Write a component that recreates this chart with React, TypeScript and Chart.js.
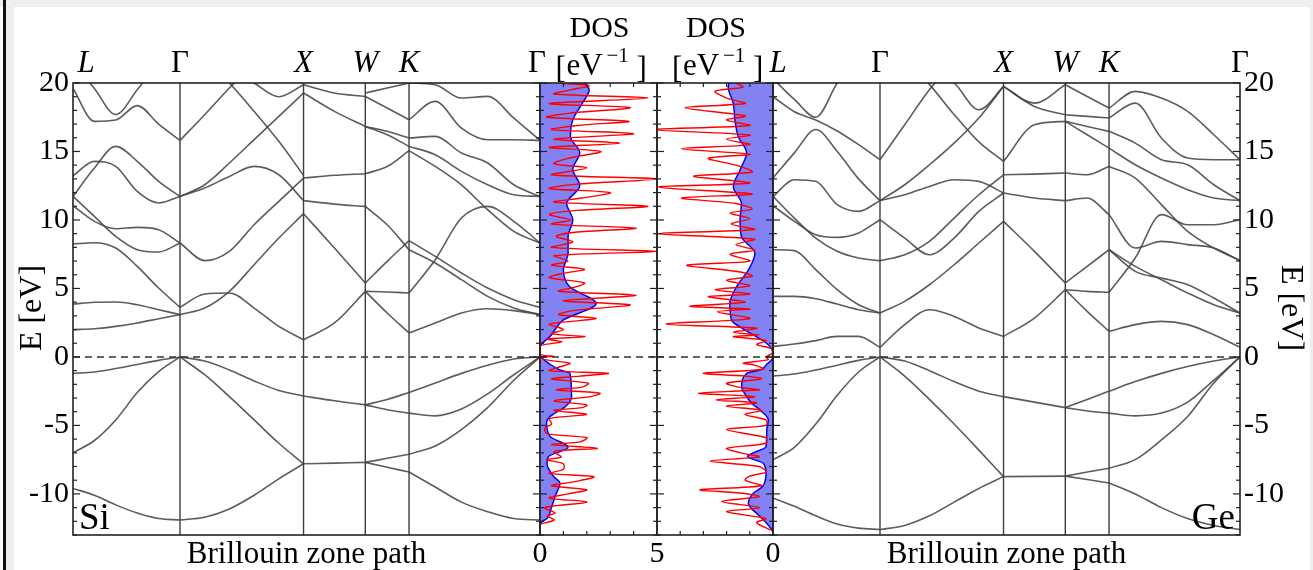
import React, { useEffect, useRef } from "react";
import { Chart, registerables } from "chart.js";

Chart.register(...registerables);

const FONT = '"Liberation Serif", "Times New Roman", "DejaVu Serif", serif';
const E_MIN = -13;
const E_MAX = 20;
const Y_TICKS = [-10, -5, 0, 5, 10, 15, 20];
const DOS_MAX = 5;

// Brillouin-zone path (units of 2π/a)
const SYM_LABELS = ["L", "Γ", "X", "W", "K", "Γ"];
const SYM_K = [0, 0.866, 1.866, 2.366, 2.72, 3.78];
const K_LG = [0, 0.173, 0.346, 0.52, 0.693, 0.866];
const K_GX = [0.866, 1.066, 1.266, 1.466, 1.666, 1.866];
const K_XW = [1.866, 2.116, 2.366];
const K_WK = [2.366, 2.543, 2.72];
const K_KG = [2.72, 2.932, 3.144, 3.356, 3.568, 3.78];

// ---------- Si bands (eV) ----------
const SI_LG = [
  [-9.6, -10.1, -10.8, -11.4, -11.8, -11.9],
  [-7.0, -6.1, -4.6, -2.6, -1.07, 0],
  [-1.2, -1.1, -0.85, -0.55, -0.25, 0],
  [1.99, 2.06, 2.23, 2.48, 2.79, 3.09],
  [3.86, 3.99, 4.01, 3.81, 3.45, 3.09],
  [8.24, 8.34, 7.95, 6.61, 5.03, 3.62],
  [11.72, 10.26, 8.8, 7.83, 7.66, 8.32],
  [11.04, 9.9, 9.36, 9.46, 9.29, 8.32],
  [13.23, 14.28, 13.91, 12.09, 11.24, 11.72],
  [11.72, 13.79, 15.37, 14.28, 12.82, 11.72],
  [19.6, 17.2, 17.3, 18.35, 17.0, 15.81],
  [21.5, 19.6, 17.7, 19.5, 21.5, 23.0],
];
const SI_GX = [
  [0, -0.3, -0.95, -1.75, -2.45, -2.85],
  [0, -1.3, -2.9, -4.6, -6.3, -7.8],
  [-11.9, -11.7, -11.1, -10.1, -8.9, -7.8],
  [3.62, 4.59, 4.67, 3.57, 2.23, 1.26],
  [3.09, 3.57, 4.79, 6.73, 8.68, 10.46],
  [8.32, 7.03, 7.71, 9.65, 11.36, 13.06],
  [11.72, 12.33, 13.18, 13.91, 13.3, 11.41],
  [11.72, 12.57, 14.16, 15.86, 17.56, 19.27],
  [15.81, 17.68, 19.63, 21.4, 23.0, 24.5],
  [23.5, 21.8, 20.0, 17.93, 15.74, 13.26],
  [24.5, 23.0, 21.0, 20.0, 19.0, 19.87],
];
const SI_XW = [
  [-2.85, -3.2, -3.5],
  [-7.8, -7.75, -7.7],
  [1.26, 2.48, 4.79],
  [10.46, 7.95, 5.4],
  [11.41, 11.16, 10.99],
  [13.06, 13.26, 13.38],
  [19.27, 17.93, 16.83],
  [19.87, 19.27, 19.02],
];
const SI_WK = [
  [-3.5, -3.1, -2.6],
  [-3.5, -3.85, -4.1],
  [-7.7, -7.4, -7.1],
  [-7.7, -8.05, -8.4],
  [4.79, 3.21, 1.75],
  [4.79, 4.74, 4.67],
  [5.4, 6.98, 8.49],
  [10.99, 9.65, 7.83],
  [13.38, 13.9, 15.06],
  [16.83, 16.22, 15.37],
  [16.83, 16.47, 15.98],
  [19.02, 18.17, 17.32],
  [19.27, 19.63, 20.0],
];
const SI_KG = [
  [-2.6, -1.9, -1.2, -0.6, -0.15, 0],
  [-4.1, -4.3, -3.8, -2.7, -1.3, 0],
  [-7.1, -6.5, -5.3, -3.7, -1.7, 0],
  [-8.4, -9.5, -10.6, -11.3, -11.8, -11.9],
  [1.75, 2.48, 3.21, 3.52, 3.38, 3.09],
  [4.67, 7.1, 10.14, 10.99, 9.9, 8.32],
  [8.49, 7.34, 6.13, 5.03, 4.18, 3.62],
  [7.83, 6.86, 5.64, 4.42, 3.57, 3.09],
  [15.06, 13.91, 12.57, 10.75, 9.17, 8.32],
  [15.37, 14.76, 13.55, 12.57, 11.84, 11.72],
  [15.98, 16.1, 14.89, 14.16, 12.57, 11.72],
  [17.32, 18.66, 16.71, 15.86, 15.86, 15.81],
  [20.0, 19.87, 18.9, 19.02, 17.44, 15.81],
];

// ---------- Ge bands (eV) ----------
const GE_LG = [
  [-10.3, -10.9, -11.6, -12.2, -12.5, -12.6],
  [-7.5, -6.6, -4.9, -2.8, -1.1, 0],
  [-1.4, -1.25, -0.95, -0.6, -0.25, 0],
  [0.77, 0.94, 1.19, 1.5, 1.5, 0.7],
  [4.42, 4.42, 4.25, 3.86, 3.45, 3.21],
  [7.83, 7.76, 6.37, 4.91, 3.81, 3.21],
  [11.04, 9.9, 8.92, 8.73, 9.05, 10.02],
  [11.72, 10.14, 8.68, 7.71, 7.22, 7.03],
  [13.06, 14.9, 16.6, 15.0, 13.0, 11.41],
  [11.72, 12.94, 12.82, 11.12, 10.63, 11.41],
  [19.0, 17.9, 17.3, 16.5, 15.5, 14.4],
  [20.3, 18.8, 17.5, 20.0, 22.0, 24.0],
];
const GE_GX = [
  [0, -0.3, -1.0, -1.8, -2.5, -2.9],
  [0, -1.4, -3.1, -4.9, -6.8, -8.74],
  [-12.6, -12.3, -11.6, -10.6, -9.6, -8.74],
  [0.7, 2.36, 3.45, 2.96, 2.11, 1.5],
  [3.21, 4.06, 5.27, 6.73, 8.32, 9.9],
  [7.03, 7.46, 8.44, 10.14, 11.84, 13.3],
  [10.02, 8.68, 7.46, 8.68, 10.63, 11.97],
  [11.41, 11.84, 12.45, 12.94, 12.82, 11.97],
  [11.41, 12.57, 14.03, 15.61, 17.44, 19.75],
  [14.4, 16.95, 19.5, 21.5, 23.0, 24.5],
  [23.5, 21.8, 19.9, 17.7, 15.7, 14.28],
  [24.0, 23.0, 21.0, 20.0, 18.05, 19.75],
];
const GE_XW = [
  [-2.9, -3.3, -3.7],
  [-8.74, -8.72, -8.7],
  [1.5, 2.84, 4.91],
  [9.9, 7.71, 5.4],
  [11.97, 11.6, 11.41],
  [13.3, 13.35, 13.43],
  [14.28, 16.95, 17.2],
  [19.75, 18.29, 17.68],
  [19.75, 18.53, 19.87],
];
const GE_WK = [
  [-3.7, -3.1, -2.5],
  [-3.7, -3.95, -4.1],
  [-8.7, -8.4, -8.13],
  [-8.7, -8.95, -9.2],
  [4.91, 3.33, 1.87],
  [4.91, 4.79, 4.72],
  [5.4, 6.61, 7.83],
  [11.41, 11.6, 10.39],
  [13.43, 13.3, 13.91],
  [17.2, 16.22, 15.25],
  [17.2, 16.83, 16.47],
  [17.68, 17.56, 17.44],
  [19.87, 19.02, 18.17],
];
const GE_KG = [
  [-2.5, -1.8, -1.2, -0.7, -0.3, 0],
  [-4.1, -4.3, -4.1, -3.3, -1.7, 0],
  [-8.13, -7.5, -6.06, -4.35, -1.9, 0],
  [-9.2, -10.0, -11.0, -11.8, -12.3, -12.6],
  [1.87, 2.36, 2.6, 2.36, 1.62, 0.7],
  [4.72, 7.22, 10.39, 9.65, 9.65, 10.02],
  [7.83, 6.61, 5.64, 4.67, 3.81, 3.21],
  [7.83, 6.25, 5.76, 5.27, 4.3, 3.21],
  [10.39, 7.95, 8.44, 8.2, 7.95, 7.03],
  [13.91, 13.06, 11.12, 9.17, 7.95, 7.03],
  [15.25, 14.03, 13.06, 12.21, 11.6, 11.41],
  [16.47, 15.61, 14.4, 14.03, 12.57, 11.41],
  [17.44, 18.53, 15.98, 14.52, 14.4, 14.4],
  [18.17, 19.39, 18.9, 17.93, 16.22, 14.4],
];

// ---------- DOS (states / eV) ----------
const SI_DOS_E = [-12.3, -12.0, -11.8, -11.2, -10.2, -9.2, -8.7, -7.8, -7.3, -6.6, -5.8, -4.8, -4.35, -3.6, -2.9, -1.2, -0.95, -0.5, -0.1, 0, 0.2, 0.8, 1.0, 1.5, 2.7, 3.9, 5.1, 6.35, 7.6, 8.8, 10.0, 11.2, 12.5, 13.7, 14.9, 16.1, 17.3, 18.5, 19.5, 20];
const SI_DOS = [0, 0.1, 0.3, 0.45, 0.64, 0.85, 0.57, 0.3, 0.35, 1.2, 0.43, 0.28, 0.43, 1.1, 1.35, 1.28, 0.85, 0.4, 0.1, 0.05, 0, 0, 0.1, 0.43, 1.0, 2.4, 1.28, 1.0, 1.2, 1.2, 1.4, 1.14, 1.7, 1.4, 1.7, 1.3, 1.4, 1.8, 2.1, 1.9];
const SI_PDOS_E = [-12.2, -11.9, -11.6, -11.4, -11.0, -10.6, -10.3, -10.0, -9.7, -9.4, -9.1, -8.75, -8.5, -8.2, -7.8, -7.5, -7.3, -6.9, -6.67, -6.4, -6.2, -5.9, -5.6, -5.2, -4.9, -4.5, -4.2, -3.9, -3.7, -3.5, -3.2, -2.9, -2.65, -2.4, -2.2, -1.92, -1.6, -1.4, -1.19, -1.0, -0.7, -0.46, -0.2, 0.0, 0.05, 0.2, 0.8, 1.1, 1.3, 1.48, 1.7, 2.0, 2.4, 2.8, 3.1, 3.4, 3.8, 4.1, 4.5, 4.8, 5.1, 5.4, 5.8, 6.1, 6.4, 6.7, 7.0, 7.4, 7.7, 8.0, 8.4, 8.8, 9.1, 9.4, 9.7, 10.0, 10.4, 10.7, 11.0, 11.3, 11.6, 12.0, 12.3, 12.6, 13.0, 13.3, 13.8, 14.1, 14.5, 15.0, 15.3, 15.6, 15.9, 16.3, 16.6, 16.9, 17.2, 17.5, 17.8, 18.2, 18.5, 18.9, 19.2, 19.5, 19.8, 20.0];
const SI_PDOS = [0, 0.6, 0.3, 0.64, 0.2, 2.0, 0.4, 1.2, 2.0, 0.5, 1.5, 2.3, 0.4, 1.0, 1.0, 0.3, 0.9, 0.6, 2.45, 0.5, 1.7, 2.0, 0.3, 0.2, 0.5, 0.4, 2.0, 0.6, 1.8, 2.0, 0.6, 2.15, 2.56, 0.7, 1.8, 2.07, 0.5, 1.7, 2.92, 0.4, 0.9, 1.28, 0.2, 0, 0.6, 0, 0, 0.93, 0.3, 1.92, 0.5, 1.0, 0.4, 2.4, 0.8, 1.5, 3.85, 1.0, 4.1, 0.8, 1.5, 1.9, 0.4, 1.0, 1.9, 0.5, 1.2, 0.6, 5.0, 0.5, 1.4, 0.7, 1.5, 4.1, 0.5, 1.3, 0.4, 1.6, 4.6, 0.6, 1.8, 3.0, 0.4, 1.5, 5.0, 0.5, 2.0, 0.6, 1.2, 2.6, 0.4, 3.4, 0.6, 4.0, 0.5, 1.6, 3.8, 0.3, 1.3, 3.85, 0.4, 4.6, 0.6, 1.3, 2.1, 0.8];

const GE_DOS_E = [-12.8, -12.6, -12.14, -11.65, -10.68, -9.95, -9.46, -8.49, -7.76, -7.27, -6.55, -5.33, -4.6, -3.87, -3.38, -2.9, -2.17, -1.19, -0.95, -0.5, -0.22, 0, 0.4, 0.63, 1.0, 1.97, 2.7, 3.9, 5.13, 6.35, 7.57, 8.78, 10.0, 11.2, 12.43, 13.65, 14.9, 16.1, 17.3, 18.5, 19.73, 20];
const GE_DOS = [0, 0.06, 0.27, 0.56, 1.06, 0.85, 0.45, 0.3, 0.42, 1.1, 0.3, 0.27, 0.2, 0.56, 0.92, 1.13, 1.35, 1.13, 0.56, 0.25, 0.06, 0.02, 0.02, 0.07, 0.28, 1.21, 1.79, 1.86, 1.57, 1.06, 0.78, 1.36, 1.42, 1.36, 1.71, 1.42, 1.14, 1.5, 1.64, 1.71, 1.93, 1.9];
const GE_PDOS_E = [-12.7, -12.1, -11.8, -11.3, -11.0, -10.56, -10.2, -9.95, -9.7, -9.4, -9.0, -8.7, -8.4, -8.0, -7.6, -7.3, -7.0, -6.67, -6.3, -5.9, -5.3, -5.0, -4.6, -4.2, -3.9, -3.6, -3.35, -3.14, -2.9, -2.65, -2.4, -2.2, -1.92, -1.6, -1.4, -1.19, -0.9, -0.6, -0.46, -0.2, 0.0, 0.3, 0.6, 0.9, 1.2, 1.48, 1.6, 1.8, 2.1, 2.4, 2.8, 3.3, 3.5, 3.7, 4.0, 4.4, 4.6, 4.9, 5.2, 5.6, 5.9, 6.2, 6.7, 7.0, 7.5, 7.8, 8.2, 8.6, 9.0, 9.3, 9.7, 10.1, 10.5, 10.8, 11.2, 11.6, 11.9, 12.4, 12.7, 13.2, 13.5, 14.0, 14.5, 14.8, 15.2, 15.5, 15.9, 16.2, 16.6, 16.9, 17.3, 17.6, 18.2, 18.5, 18.9, 19.4, 19.7, 20.0];
const GE_PDOS = [0, 0.71, 0.3, 2.0, 0.6, 2.21, 0.6, 1.3, 3.14, 0.5, 1.2, 1.0, 0.3, 0.6, 2.72, 0.6, 1.4, 2.0, 0.3, 0.3, 2.0, 0.3, 0.3, 1.2, 0.5, 2.0, 0.7, 2.43, 0.8, 3.21, 0.6, 1.5, 2.0, 0.5, 1.2, 3.0, 0.4, 0.8, 1.28, 0.2, 0.3, 0, 0.05, 0.7, 0.3, 1.71, 0.6, 1.7, 0.7, 4.6, 1.0, 2.4, 1.0, 3.58, 1.2, 2.79, 1.0, 2.5, 1.0, 2.0, 0.9, 1.4, 3.72, 1.0, 1.85, 0.8, 1.6, 0.8, 4.94, 0.8, 1.8, 1.0, 1.85, 0.9, 1.6, 3.94, 0.9, 4.94, 1.0, 3.43, 0.9, 1.6, 2.79, 1.0, 3.94, 1.0, 2.0, 1.0, 5.2, 1.0, 2.0, 1.2, 3.79, 1.2, 2.0, 2.5, 1.3, 1.6];

const BAND_COLOR = "rgba(70,70,70,0.88)";
const W = 1313;
const H = 570;

type Seg = [number[], number[][]];

function bandDatasets(segs: Seg[]) {
  const out: any[] = [];
  for (const [ks, bands] of segs) {
    for (const b of bands) {
      out.push({
        data: ks.map((k, i) => ({ x: k, y: b[i] })),
        showLine: true,
        borderColor: BAND_COLOR,
        borderWidth: 1.6,
        pointRadius: 0,
        cubicInterpolationMode: "monotone",
        fill: false,
      });
    }
  }
  return out;
}

function seg(ctx: CanvasRenderingContext2D, x1: number, y1: number, x2: number, y2: number) {
  ctx.beginPath();
  ctx.moveTo(x1, y1);
  ctx.lineTo(x2, y2);
  ctx.stroke();
}

function energyTicks(ctx: CanvasRenderingContext2D, a: any, ys: any, major: number, minor: number) {
  ctx.strokeStyle = "#222";
  ctx.lineWidth = 1.2;
  for (let v = E_MIN; v <= E_MAX; v++) {
    const py = ys.getPixelForValue(v);
    const len = v % 5 === 0 ? major : minor;
    seg(ctx, a.left, py, a.left + len, py);
    seg(ctx, a.right, py, a.right - len, py);
  }
}

function zeroLine(ctx: CanvasRenderingContext2D, a: any, ys: any) {
  const y0 = ys.getPixelForValue(0);
  ctx.save();
  ctx.strokeStyle = "#333";
  ctx.lineWidth = 1.5;
  ctx.setLineDash([7, 5]);
  seg(ctx, a.left, y0, a.right, y0);
  ctx.restore();
}

function frame(ctx: CanvasRenderingContext2D, a: any) {
  ctx.strokeStyle = "#222";
  ctx.lineWidth = 1.6;
  ctx.strokeRect(a.left, a.top, a.right - a.left, a.bottom - a.top);
}

function bandDeco(side: "left" | "right", name: string, dx: number[]) {
  return {
    id: "bandDeco",
    beforeDatasetsDraw(chart: any) {
      const { ctx, chartArea: a, scales } = chart;
      ctx.save();
      ctx.strokeStyle = "rgba(40,40,40,0.9)";
      ctx.lineWidth = 1.4;
      for (let i = 1; i < SYM_K.length - 1; i++) {
        const px = scales.x.getPixelForValue(SYM_K[i]);
        seg(ctx, px, a.top, px, a.bottom);
      }
      ctx.restore();
    },
    afterDatasetsDraw(chart: any) {
      const { ctx, chartArea: a, scales } = chart;
      const xs = scales.x;
      const ys = scales.y;
      ctx.save();
      zeroLine(ctx, a, ys);
      frame(ctx, a);
      energyTicks(ctx, a, ys, 7, 4);
      ctx.fillStyle = "#000";
      ctx.textAlign = "center";
      ctx.textBaseline = "alphabetic";
      SYM_LABELS.forEach((lab, i) => {
        ctx.font = (lab === "Γ" ? "" : "italic ") + "31px " + FONT;
        ctx.fillText(lab, xs.getPixelForValue(SYM_K[i]) + dx[i], 72);
      });
      ctx.font = "31px " + FONT;
      ctx.fillText("Brillouin zone path", (a.left + a.right) / 2, 563);
      ctx.font = "37px " + FONT;
      ctx.textAlign = side === "left" ? "left" : "right";
      ctx.fillText(name, side === "left" ? a.left + 6 : a.right - 5, 529);
      ctx.font = "32px " + FONT;
      ctx.translate(side === "left" ? 33 : 1290, 308);
      ctx.rotate(side === "left" ? -Math.PI / 2 : Math.PI / 2);
      ctx.textAlign = "center";
      ctx.textBaseline = "middle";
      ctx.fillText("E [eV]", 0, 0);
      ctx.restore();
    },
  };
}

function dosDeco() {
  return {
    id: "dosDeco",
    afterDatasetsDraw(chart: any) {
      const { ctx, chartArea: a, scales } = chart;
      const xs = scales.x;
      const ys = scales.y;
      ctx.save();
      zeroLine(ctx, a, ys);
      frame(ctx, a);
      energyTicks(ctx, a, ys, 7, 4);
      for (let d = 1; d < DOS_MAX; d++) {
        const px = xs.getPixelForValue(d);
        seg(ctx, px, a.top, px, a.top + 4);
        seg(ctx, px, a.bottom, px, a.bottom - 4);
      }
      const cx = (a.left + a.right) / 2;
      ctx.fillStyle = "#000";
      ctx.textBaseline = "alphabetic";
      ctx.font = "30px " + FONT;
      ctx.textAlign = "center";
      ctx.fillText("DOS", cx + 1, 37);
      ctx.textAlign = "left";
      ctx.font = "31px " + FONT;
      ctx.fillText("[", cx - 43, 78);
      ctx.fillText("]", cx + 38, 78);
      ctx.font = "31px " + FONT;
      ctx.fillText("eV", cx - 32, 75);
      ctx.font = "21px " + FONT;
      ctx.fillText("\u22121", cx + 8, 62);
      ctx.restore();
    },
  };
}

const baseOptions = {
  animation: false as const,
  responsive: false,
  events: [] as any[],
  plugins: { legend: { display: false }, tooltip: { enabled: false } },
};

function bandConfig(segs: Seg[], side: "left" | "right", name: string, dx: number[]): any {
  return {
    type: "scatter",
    data: { datasets: bandDatasets(segs) },
    options: {
      ...baseOptions,
      layout: {
        padding: side === "left"
          ? { left: 13, right: W - 540, top: 83, bottom: H - 535 }
          : { left: 773, right: W - 1240 - 60, top: 83, bottom: H - 535 },
      },
      scales: {
        x: { type: "linear", min: SYM_K[0], max: SYM_K[SYM_K.length - 1], display: false },
        y: {
          type: "linear",
          min: E_MIN,
          max: E_MAX,
          position: side,
          grid: { display: false, drawTicks: false },
          border: { display: false },
          ticks: { font: { family: FONT, size: 30 }, color: "#000", padding: 4, callback: (v: number) => String(v) },
          afterBuildTicks: (s: any) => { s.ticks = Y_TICKS.map((v) => ({ value: v })); },
          afterFit: (s: any) => { s.width = 60; },
        },
      },
    },
    plugins: [bandDeco(side, name, dx)],
  };
}

function dosConfig(eTot: number[], dTot: number[], eP: number[], dP: number[], reverse: boolean, left: number, right: number, labels: number[]): any {
  return {
    type: "line",
    data: {
      datasets: [
        {
          data: eP.map((e, i) => ({ x: dP[i], y: e })),
          borderColor: "rgb(255,0,0)",
          borderWidth: 1.4,
          pointRadius: 0,
          fill: false,
          tension: 0.3,
          order: 0,
        },
        {
          data: eTot.map((e, i) => ({ x: dTot[i], y: e })),
          borderColor: "rgb(0,0,255)",
          backgroundColor: "rgba(95,95,240,0.78)",
          borderWidth: 1.5,
          pointRadius: 0,
          fill: "origin",
          cubicInterpolationMode: "monotone",
          order: 1,
        },
      ],
    },
    options: {
      ...baseOptions,
      indexAxis: "y",
      layout: { padding: { left, right: W - right, top: 83, bottom: 0 } },
      scales: {
        x: {
          type: "linear",
          min: 0,
          max: DOS_MAX,
          reverse,
          position: "bottom",
          grid: { display: false, drawTicks: false },
          border: { display: false },
          ticks: { font: { family: FONT, size: 30 }, color: "#000", padding: 1, maxRotation: 0, autoSkip: false, callback: (v: number) => String(v) },
          afterBuildTicks: (s: any) => { s.ticks = labels.map((v) => ({ value: v })); },
          afterFit: (s: any) => { s.height = H - 535; },
        },
        y: { type: "linear", min: E_MIN, max: E_MAX, display: false },
      },
    },
    plugins: [dosDeco()],
  };
}

export default function App() {
  const r1 = useRef<HTMLCanvasElement>(null);
  const r2 = useRef<HTMLCanvasElement>(null);
  const r3 = useRef<HTMLCanvasElement>(null);
  const r4 = useRef<HTMLCanvasElement>(null);

  useEffect(() => {
    const siSegs: Seg[] = [[K_LG, SI_LG], [K_GX, SI_GX], [K_XW, SI_XW], [K_WK, SI_WK], [K_KG, SI_KG]];
    const geSegs: Seg[] = [[K_LG, GE_LG], [K_GX, GE_GX], [K_XW, GE_XW], [K_WK, GE_WK], [K_KG, GE_KG]];
    const charts = [
      new Chart(r1.current!, bandConfig(siSegs, "left", "Si", [13, 0, 0, 0, 0, -3])),
      new Chart(r2.current!, dosConfig(SI_DOS_E, SI_DOS, SI_PDOS_E, SI_PDOS, false, 540, 657, [0, 5])),
      new Chart(r3.current!, dosConfig(GE_DOS_E, GE_DOS, GE_PDOS_E, GE_PDOS, true, 657, 773, [0])),
      new Chart(r4.current!, bandConfig(geSegs, "right", "Ge", [5, 0, 0, 0, 0, 0])),
    ];
    return () => charts.forEach((c) => c.destroy());
  }, []);

  const cv = { position: "absolute" as const, left: 0, top: 0 };
  return (
    <div style={{ position: "absolute", left: 0, top: 0, width: W, height: H, background: "#fff", overflow: "hidden" }}>
      <div style={{ position: "absolute", left: 0, top: 0, width: W, height: 7, background: "#eeeeee" }} />
      <div style={{ position: "absolute", left: 6, top: 0, width: 8, height: H, background: "#eeeeee" }} />
      <div style={{ position: "absolute", left: 3, top: 0, width: 3, height: H, background: "#111" }} />
      <div style={{ position: "absolute", left: W - 3, top: 0, width: 3, height: H, background: "#eeeeee" }} />
      <canvas ref={r1} width={W} height={H} style={cv} />
      <canvas ref={r2} width={W} height={H} style={cv} />
      <canvas ref={r3} width={W} height={H} style={cv} />
      <canvas ref={r4} width={W} height={H} style={cv} />
    </div>
  );
}
